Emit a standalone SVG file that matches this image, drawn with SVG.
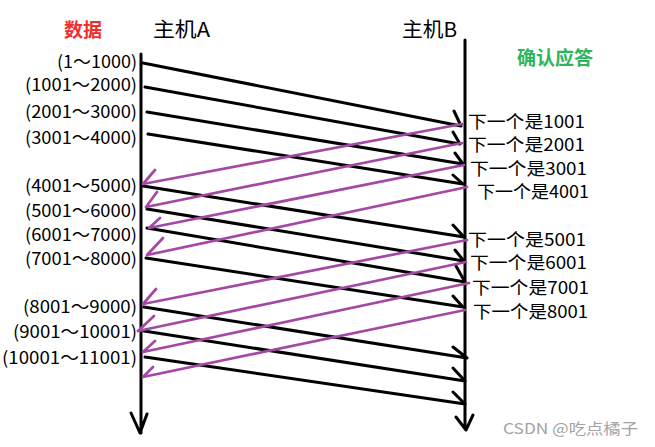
<svg xmlns="http://www.w3.org/2000/svg" width="655" height="447" viewBox="0 0 655 447">
<style>
.t{font-family:"Microsoft YaHei","Noto Sans CJK SC","Noto Sans",sans-serif;fill:#000}
.d{font-size:17.5px;text-anchor:end}
.a{font-size:17.5px}
.h{font-size:20px}
.blk{stroke:#000;stroke-width:3;fill:none;stroke-linecap:round;stroke-linejoin:round}
.pur{stroke:#a349a4;stroke-width:2.7;fill:none;stroke-linecap:round;stroke-linejoin:round}
</style>
<rect width="655" height="447" fill="#fff"/>
<g id="hostA">
<path class="blk" d="M141 54 L141 433 M131 413 L140 433 L147 414"/>
<text class="t h" x="153" y="37" textLength="57" lengthAdjust="spacingAndGlyphs">主机A</text>
</g>
<g id="hostB">
<path class="blk" d="M465 40 L465 429 M456 417 L466 430 L473 415"/>
<text class="t h" x="402" y="37" textLength="55" lengthAdjust="spacingAndGlyphs">主机B</text>
</g>
<g id="titles">
<text class="t" x="64" y="37" style="font-size:19px;font-weight:bold;fill:#f22b2b" textLength="38" lengthAdjust="spacingAndGlyphs">数据</text>
<text class="t" x="517" y="65" style="font-size:19px;font-weight:bold;fill:#2db55d" textLength="76" lengthAdjust="spacingAndGlyphs">确认应答</text>
</g>
<g id="data-labels">
<text class="t d" x="137" y="68" textLength="80" lengthAdjust="spacingAndGlyphs">(1～1000)</text>
<text class="t d" x="137" y="91" textLength="112" lengthAdjust="spacingAndGlyphs">(1001～2000)</text>
<text class="t d" x="137" y="118" textLength="112" lengthAdjust="spacingAndGlyphs">(2001～3000)</text>
<text class="t d" x="137" y="144" textLength="112" lengthAdjust="spacingAndGlyphs">(3001～4000)</text>
<text class="t d" x="137" y="192" textLength="112" lengthAdjust="spacingAndGlyphs">(4001～5000)</text>
<text class="t d" x="137" y="217" textLength="112" lengthAdjust="spacingAndGlyphs">(5001～6000)</text>
<text class="t d" x="137" y="241" textLength="112" lengthAdjust="spacingAndGlyphs">(6001～7000)</text>
<text class="t d" x="137" y="265" textLength="112" lengthAdjust="spacingAndGlyphs">(7001～8000)</text>
<text class="t d" x="137" y="313" textLength="114" lengthAdjust="spacingAndGlyphs">(8001～9000)</text>
<text class="t d" x="137" y="338" textLength="124" lengthAdjust="spacingAndGlyphs">(9001～10001)</text>
<text class="t d" x="137" y="364" textLength="135" lengthAdjust="spacingAndGlyphs">(10001～11001)</text>
</g>
<g id="ack-labels">
<text class="t a" x="468" y="128" textLength="117" lengthAdjust="spacingAndGlyphs">下一个是1001</text>
<text class="t a" x="468" y="151" textLength="117" lengthAdjust="spacingAndGlyphs">下一个是2001</text>
<text class="t a" x="470" y="175" textLength="117" lengthAdjust="spacingAndGlyphs">下一个是3001</text>
<text class="t a" x="477" y="198" textLength="112" lengthAdjust="spacingAndGlyphs">下一个是4001</text>
<text class="t a" x="468" y="246" textLength="118" lengthAdjust="spacingAndGlyphs">下一个是5001</text>
<text class="t a" x="470" y="269" textLength="117" lengthAdjust="spacingAndGlyphs">下一个是6001</text>
<text class="t a" x="472" y="294" textLength="117" lengthAdjust="spacingAndGlyphs">下一个是7001</text>
<text class="t a" x="473" y="318" textLength="115" lengthAdjust="spacingAndGlyphs">下一个是8001</text>
</g>
<g id="connectors">
<path class="blk" d="M143 63 L461 126 M454 111 L461 126"/>
<path class="blk" d="M145 87 L460 144 M453 132 L460 144"/>
<path class="blk" d="M147 112 L463 164 M455 153 L463 164"/>
<path class="blk" d="M148 134 L463 184 M453 175 L463 184"/>
<path class="blk" d="M143 186 L464 237 M453 225 L464 237"/>
<path class="blk" d="M147 209 L464 261 M455 250 L464 261"/>
<path class="blk" d="M147 228 L465 282 M456 266 L465 282"/>
<path class="blk" d="M146 258 L463 307 M453 296 L463 307"/>
<path class="blk" d="M144 307 L467 358 M453 347 L467 358"/>
<path class="blk" d="M144 331 L465 381 M453 368 L465 381"/>
<path class="blk" d="M145 357 L465 404 M453 392 L465 404"/>
<path class="pur" d="M462 124 L143 184 M155 170 L143 184"/>
<path class="pur" d="M462 143 L146 207 M157 192 L146 207"/>
<path class="pur" d="M464 165 L149 228 M160 218 L149 228"/>
<path class="pur" d="M467 187 L147 255 M163 238 L147 255"/>
<path class="pur" d="M467 240 L143 304 M156 289 L143 304"/>
<path class="pur" d="M466 262 L138 331 M154 316 L138 331"/>
<path class="pur" d="M469 283 L143 352 M155 341 L143 352"/>
<path class="pur" d="M465 310 L143 377 M153 367 L143 377"/>
</g>
<text class="t" x="503" y="434" style="font-size:15px;fill:#a3a3a3" textLength="135" lengthAdjust="spacingAndGlyphs">CSDN @吃点橘子</text>
</svg>
